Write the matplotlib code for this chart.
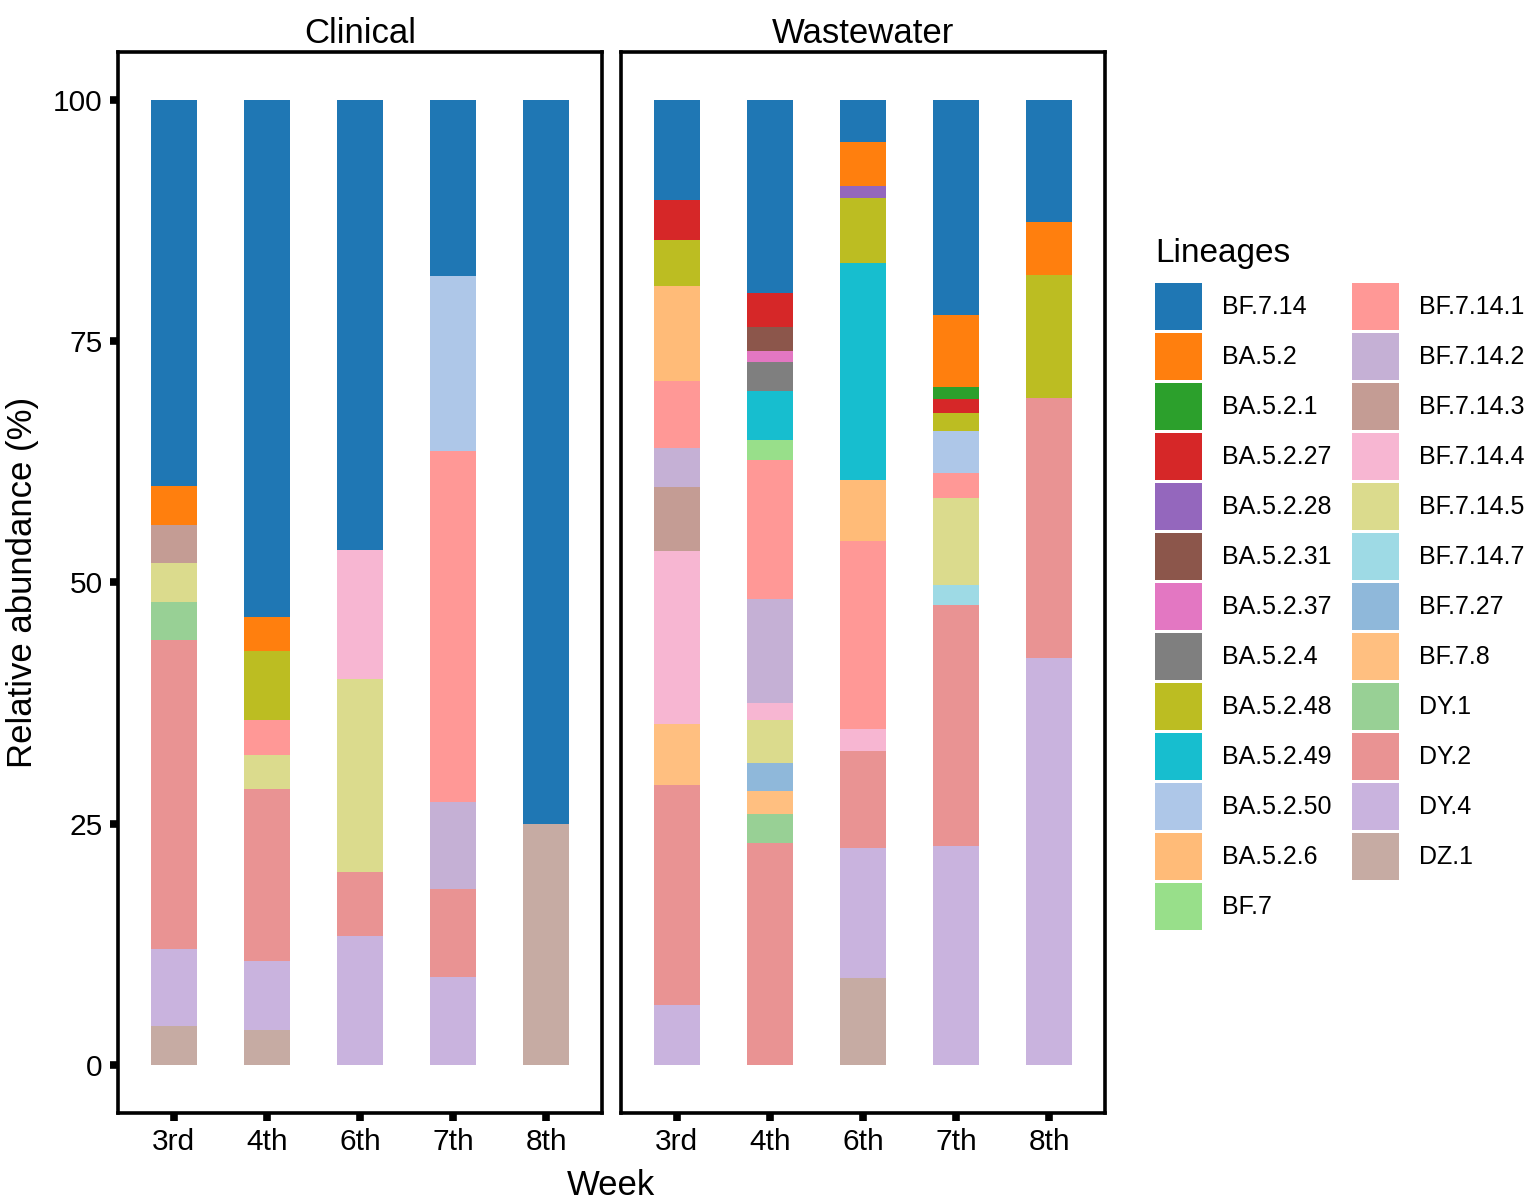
import numpy as np
import matplotlib
matplotlib.use("Agg")
import matplotlib.pyplot as plt
from matplotlib.patches import Patch

plt.rcParams["font.family"] = ["Liberation Sans", "DejaVu Sans"]

weeks = ["3rd", "4th", "6th", "7th", "8th"]

lineages = [
    "BF.7.14", "BA.5.2", "BA.5.2.1", "BA.5.2.27", "BA.5.2.28", "BA.5.2.31",
    "BA.5.2.37", "BA.5.2.4", "BA.5.2.48", "BA.5.2.49", "BA.5.2.50", "BA.5.2.6",
    "BF.7", "BF.7.14.1", "BF.7.14.2", "BF.7.14.3", "BF.7.14.4", "BF.7.14.5",
    "BF.7.14.7", "BF.7.27", "BF.7.8", "DY.1", "DY.2", "DY.4", "DZ.1",
]

colors = [
    "#1f77b4", "#ff7f0e", "#2ca02c", "#d62728", "#9467bd", "#8c564b",
    "#e377c2", "#7f7f7f", "#bcbd22", "#17becf", "#aec7e8", "#ffbb78",
    "#98df8a", "#ff9896", "#c5b0d5", "#c49c94", "#f7b6d2", "#dbdb8d",
    "#9edae5", "#8fb8da", "#ffbf80", "#98d095", "#e99393", "#c9b3de",
    "#c6aba3",
]

# rows follow `lineages`, columns follow `weeks` (percent)
clinical_pct = [
    [40.0, 53.57, 46.67, 18.18, 75.0],   # BF.7.14
    [4.0, 3.57, 0, 0, 0],                # BA.5.2
    [0, 0, 0, 0, 0],                     # BA.5.2.1
    [0, 0, 0, 0, 0],                     # BA.5.2.27
    [0, 0, 0, 0, 0],                     # BA.5.2.28
    [0, 0, 0, 0, 0],                     # BA.5.2.31
    [0, 0, 0, 0, 0],                     # BA.5.2.37
    [0, 0, 0, 0, 0],                     # BA.5.2.4
    [0, 7.14, 0, 0, 0],                  # BA.5.2.48
    [0, 0, 0, 0, 0],                     # BA.5.2.49
    [0, 0, 0, 18.18, 0],                 # BA.5.2.50
    [0, 0, 0, 0, 0],                     # BA.5.2.6
    [0, 0, 0, 0, 0],                     # BF.7
    [0, 3.57, 0, 36.36, 0],              # BF.7.14.1
    [0, 0, 0, 9.09, 0],                  # BF.7.14.2
    [4.0, 0, 0, 0, 0],                   # BF.7.14.3
    [0, 0, 13.33, 0, 0],                 # BF.7.14.4
    [4.0, 3.57, 20.0, 0, 0],             # BF.7.14.5
    [0, 0, 0, 0, 0],                     # BF.7.14.7
    [0, 0, 0, 0, 0],                     # BF.7.27
    [0, 0, 0, 0, 0],                     # BF.7.8
    [4.0, 0, 0, 0, 0],                   # DY.1
    [32.0, 17.86, 6.67, 9.09, 0],        # DY.2
    [8.0, 7.14, 13.33, 9.09, 0],         # DY.4
    [4.0, 3.57, 0, 0, 25.0],             # DZ.1
]

wastewater_pct = [
    [10.3, 20.0, 4.3, 22.3, 12.6],       # BF.7.14
    [0, 0, 4.6, 7.4, 5.5],               # BA.5.2
    [0, 0, 0, 1.3, 0],                   # BA.5.2.1
    [4.2, 3.5, 0, 1.4, 0],               # BA.5.2.27
    [0, 0, 1.2, 0, 0],                   # BA.5.2.28
    [0, 2.5, 0, 0, 0],                   # BA.5.2.31
    [0, 1.1, 0, 0, 0],                   # BA.5.2.37
    [0, 3.0, 0, 0, 0],                   # BA.5.2.4
    [4.8, 0, 6.8, 1.9, 12.8],            # BA.5.2.48
    [0, 5.1, 22.5, 0, 0],                # BA.5.2.49
    [0, 0, 0, 4.4, 0],                   # BA.5.2.50
    [9.8, 0, 6.3, 0, 0],                 # BA.5.2.6
    [0, 2.1, 0, 0, 0],                   # BF.7
    [7.0, 14.4, 19.5, 2.5, 0],           # BF.7.14.1
    [4.0, 10.8, 0, 0, 0],                # BF.7.14.2
    [6.6, 0, 0, 0, 0],                   # BF.7.14.3
    [18.0, 1.8, 2.3, 0, 0],              # BF.7.14.4
    [0, 4.4, 0, 9.1, 0],                 # BF.7.14.5
    [0, 0, 0, 2.0, 0],                   # BF.7.14.7
    [0, 2.9, 0, 0, 0],                   # BF.7.27
    [6.3, 2.4, 0, 0, 0],                 # BF.7.8
    [0, 3.0, 0, 0, 0],                   # DY.1
    [22.8, 23.0, 10.0, 25.0, 26.9],      # DY.2
    [6.2, 0, 13.5, 22.7, 42.2],          # DY.4
    [0, 0, 9.0, 0, 0],                   # DZ.1
]

panels = [("Clinical", clinical_pct), ("Wastewater", wastewater_pct)]

fig = plt.figure(figsize=(15.35, 12.03), dpi=100)
ax_l = fig.add_axes([0.0769, 0.0748, 0.3153, 0.882])
ax_r = fig.add_axes([0.4046, 0.0748, 0.3153, 0.882], sharey=ax_l)

x = np.arange(len(weeks))
for ax, (title, table) in zip([ax_l, ax_r], panels):
    vals = np.array(table, dtype=float)
    bottom = np.zeros(len(weeks))
    # ggplot-style stacking: last lineage sits at the bottom
    for i in range(len(lineages) - 1, -1, -1):
        ax.bar(x, vals[i], bottom=bottom, width=0.5, color=colors[i],
               linewidth=0)
        bottom += vals[i]
    ax.set_xlim(-0.6, 4.6)
    ax.set_ylim(-5, 105)
    ax.set_xticks(x)
    ax.set_xticklabels(weeks)
    ax.set_title(title, fontsize=25, pad=6.5)
    for s in ax.spines.values():
        s.set_linewidth(2.6)
    ax.tick_params(axis="both", length=6, width=5.5, labelsize=21.5,
                   color="black", pad=5)

ax_l.set_yticks([0, 25, 50, 75, 100])
ax_l.set_ylabel("Relative abundance (%)", fontsize=25, labelpad=10)
ax_r.tick_params(axis="y", left=False, labelleft=False)

fig.text(0.398, 1 - 1195 / 1203, "Week", ha="center", va="baseline",
         fontsize=25)

# legend: title as plain text, entries in two columns
fig.text(1155 / 1535, 1 - 262 / 1203, "Lineages", ha="left",
         va="baseline", fontsize=24)
handles = [Patch(facecolor=c, edgecolor="none") for c in colors]
leg = fig.legend(handles, lineages, ncol=2, loc="upper left",
                 bbox_to_anchor=(1155 / 1535, 1 - 283 / 1203), frameon=False,
                 fontsize=18, handlelength=1.88, handleheight=2.515,
                 labelspacing=0.12, handletextpad=0.8, columnspacing=0.8,
                 borderpad=0, borderaxespad=0)

fig.savefig("out.png", dpi=100)
